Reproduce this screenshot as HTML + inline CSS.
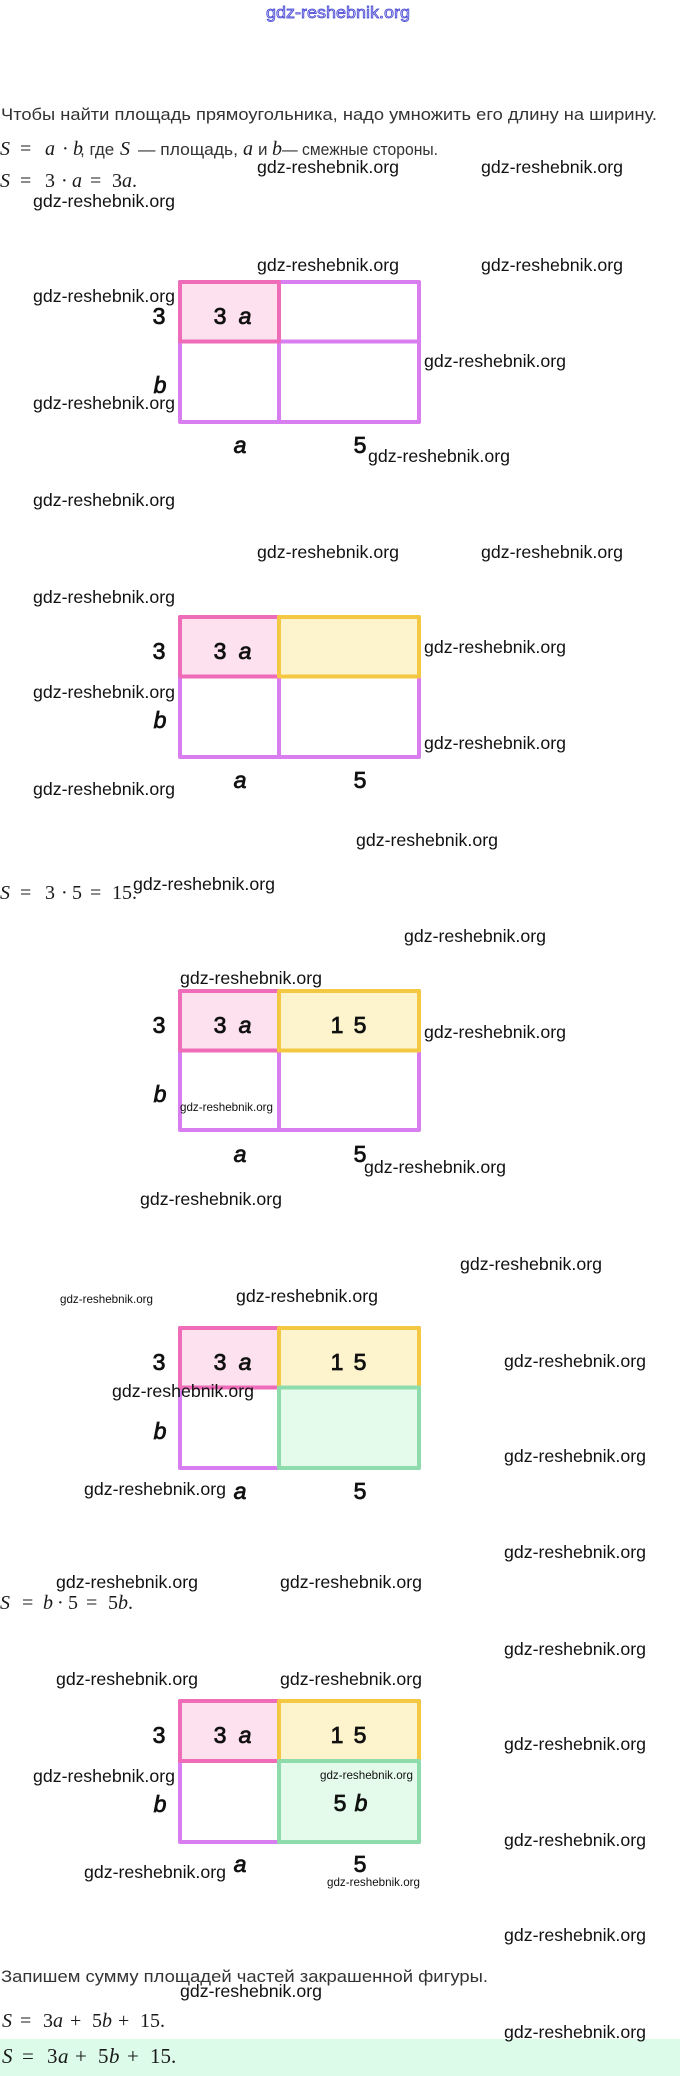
<!DOCTYPE html>
<html>
<head>
<meta charset="utf-8">
<style>
  html,body{margin:0;padding:0;background:#fff;}
  svg{display:block;}
  .t{font-family:"Liberation Sans","DejaVu Sans",sans-serif;font-size:17px;fill:#333;}
  .m{font-family:"Liberation Serif","DejaVu Serif",serif;font-size:20px;fill:#1a1a1a;}
  .m2{font-family:"Liberation Serif","DejaVu Serif",serif;font-size:21px;fill:#1a1a1a;}
  .i{font-style:italic;}
  .w{font-family:"Liberation Sans","DejaVu Sans",sans-serif;font-size:17.7px;fill:#111;}
  .ws{font-family:"Liberation Sans","DejaVu Sans",sans-serif;font-size:11.6px;fill:#111;}
  .L{font-family:"Liberation Sans","DejaVu Sans",sans-serif;font-size:23px;fill:#111;stroke:#111;stroke-width:0.8;text-anchor:middle;}
</style>
</head>
<body>
<svg width="680" height="2076" viewBox="0 0 680 2076" xmlns="http://www.w3.org/2000/svg">
  <rect x="0" y="0" width="680" height="2076" fill="#fff"/>

  <!-- top blue watermark -->
  <text x="266" y="18" font-family="Liberation Sans, DejaVu Sans, sans-serif" font-size="17" fill="#c9c9f4" stroke="#3a3ad0" stroke-width="0.7" textLength="144" lengthAdjust="spacingAndGlyphs">gdz-reshebnik.org</text>

  <!-- intro text -->
  <text class="t" x="1" y="120" textLength="656" lengthAdjust="spacingAndGlyphs">Чтобы найти площадь прямоугольника, надо умножить его длину на ширину.</text>

  <!-- line 2 -->
  <text class="m i" x="0" y="155">S</text>
  <text class="m" x="20" y="155">=</text>
  <text class="m i" x="45" y="155">a</text>
  <text class="m" x="62" y="155">·</text>
  <text class="m i" x="73" y="155">b</text>
  <text class="t" x="80" y="155">, где</text>
  <text class="m i" x="120" y="155">S</text>
  <text class="t" x="138" y="155" textLength="100" lengthAdjust="spacingAndGlyphs">— площадь,</text>
  <text class="m i" x="243" y="155">a</text>
  <text class="t" x="258" y="155">и</text>
  <text class="m i" x="272" y="155">b</text>
  <text class="t" x="282" y="155" textLength="156" lengthAdjust="spacingAndGlyphs">— смежные стороны.</text>

  <!-- line 3 -->
  <text class="m i" x="0" y="187">S</text>
  <text class="m" x="20" y="187">=</text>
  <text class="m" x="45" y="187">3</text>
  <text class="m" x="61" y="187">·</text>
  <text class="m i" x="72" y="187">a</text>
  <text class="m" x="90" y="187">=</text>
  <text class="m" x="112" y="187">3</text>
  <text class="m i" x="122" y="187">a</text>
  <text class="m" x="132" y="187">.</text>

  <!-- ========== Diagram 1 ========== -->
  <g transform="translate(0,282)">
    <rect x="180" y="0" width="239" height="140" fill="#fff" stroke="#d97ef0" stroke-width="4" stroke-linejoin="round"/>
    <line x1="279" y1="0" x2="279" y2="140" stroke="#d97ef0" stroke-width="4"/>
    <line x1="180" y1="59.5" x2="419" y2="59.5" stroke="#d97ef0" stroke-width="4"/>
    <rect x="180" y="0" width="99" height="59.5" fill="#fde1ef" stroke="#ee6cb8" stroke-width="4" stroke-linejoin="round"/>
    <text class="L" x="159" y="42">3</text>
    <text class="L i" x="160" y="111">b</text>
    <text class="L i" x="240" y="171">a</text>
    <text class="L" x="360" y="171">5</text>
    <text class="L" x="220" y="42">3</text><text class="L i" x="245" y="42">a</text>
  </g>

  <!-- ========== Diagram 2 ========== -->
  <g transform="translate(0,617)">
    <rect x="180" y="0" width="239" height="140" fill="#fff" stroke="#d97ef0" stroke-width="4" stroke-linejoin="round"/>
    <line x1="279" y1="0" x2="279" y2="140" stroke="#d97ef0" stroke-width="4"/>
    <line x1="180" y1="59.5" x2="419" y2="59.5" stroke="#d97ef0" stroke-width="4"/>
    <rect x="180" y="0" width="99" height="59.5" fill="#fde1ef" stroke="#ee6cb8" stroke-width="4" stroke-linejoin="round"/>
    <rect x="279" y="0" width="140" height="59.5" fill="#fdf3cc" stroke="#f4c842" stroke-width="4" stroke-linejoin="round"/>
    <text class="L" x="159" y="42">3</text>
    <text class="L i" x="160" y="111">b</text>
    <text class="L i" x="240" y="171">a</text>
    <text class="L" x="360" y="171">5</text>
    <text class="L" x="220" y="42">3</text><text class="L i" x="245" y="42">a</text>
  </g>

  <!-- S = 3·5 = 15 -->
  <text class="m i" x="0" y="899">S</text>
  <text class="m" x="20" y="899">=</text>
  <text class="m" x="45" y="899">3</text>
  <text class="m" x="61" y="899">·</text>
  <text class="m" x="72" y="899">5</text>
  <text class="m" x="90" y="899">=</text>
  <text class="m" x="112" y="899">15.</text>

  <!-- ========== Diagram 3 ========== -->
  <g transform="translate(0,991)">
    <rect x="180" y="0" width="239" height="139" fill="#fff" stroke="#d97ef0" stroke-width="4" stroke-linejoin="round"/>
    <line x1="279" y1="0" x2="279" y2="139" stroke="#d97ef0" stroke-width="4"/>
    <line x1="180" y1="59.5" x2="419" y2="59.5" stroke="#d97ef0" stroke-width="4"/>
    <rect x="180" y="0" width="99" height="59.5" fill="#fde1ef" stroke="#ee6cb8" stroke-width="4" stroke-linejoin="round"/>
    <rect x="279" y="0" width="140" height="59.5" fill="#fdf3cc" stroke="#f4c842" stroke-width="4" stroke-linejoin="round"/>
    <text class="L" x="159" y="42">3</text>
    <text class="L i" x="160" y="111">b</text>
    <text class="L i" x="240" y="171">a</text>
    <text class="L" x="360" y="171">5</text>
    <text class="L" x="220" y="42">3</text><text class="L i" x="245" y="42">a</text>
    <text class="L" x="337" y="42">1</text><text class="L" x="360" y="42">5</text>
  </g>

  <!-- ========== Diagram 4 ========== -->
  <g transform="translate(0,1328)">
    <rect x="180" y="0" width="239" height="140" fill="#fff" stroke="#d97ef0" stroke-width="4" stroke-linejoin="round"/>
    <line x1="279" y1="0" x2="279" y2="140" stroke="#d97ef0" stroke-width="4"/>
    <line x1="180" y1="59.5" x2="419" y2="59.5" stroke="#d97ef0" stroke-width="4"/>
    <rect x="180" y="0" width="99" height="59.5" fill="#fde1ef" stroke="#ee6cb8" stroke-width="4" stroke-linejoin="round"/>
    <rect x="279" y="0" width="140" height="59.5" fill="#fdf3cc" stroke="#f4c842" stroke-width="4" stroke-linejoin="round"/>
    <rect x="279" y="59.5" width="140" height="80.5" fill="#e4fbeb" stroke="#8edcab" stroke-width="4" stroke-linejoin="round"/>
    <text class="L" x="159" y="42">3</text>
    <text class="L i" x="160" y="111">b</text>
    <text class="L i" x="240" y="171">a</text>
    <text class="L" x="360" y="171">5</text>
    <text class="L" x="220" y="42">3</text><text class="L i" x="245" y="42">a</text>
    <text class="L" x="337" y="42">1</text><text class="L" x="360" y="42">5</text>
  </g>

  <!-- S = b·5 = 5b -->
  <text class="m i" x="0" y="1609">S</text>
  <text class="m" x="22" y="1609">=</text>
  <text class="m i" x="43" y="1609">b</text>
  <text class="m" x="57" y="1609">·</text>
  <text class="m" x="68" y="1609">5</text>
  <text class="m" x="86" y="1609">=</text>
  <text class="m" x="108" y="1609">5</text>
  <text class="m i" x="118" y="1609">b</text>
  <text class="m" x="128" y="1609">.</text>

  <!-- ========== Diagram 5 ========== -->
  <g transform="translate(0,1701)">
    <rect x="180" y="0" width="239" height="141" fill="#fff" stroke="#d97ef0" stroke-width="4" stroke-linejoin="round"/>
    <line x1="279" y1="0" x2="279" y2="141" stroke="#d97ef0" stroke-width="4"/>
    <line x1="180" y1="60" x2="419" y2="60" stroke="#d97ef0" stroke-width="4"/>
    <rect x="180" y="0" width="99" height="60" fill="#fde1ef" stroke="#ee6cb8" stroke-width="4" stroke-linejoin="round"/>
    <rect x="279" y="0" width="140" height="60" fill="#fdf3cc" stroke="#f4c842" stroke-width="4" stroke-linejoin="round"/>
    <rect x="279" y="60" width="140" height="81" fill="#e4fbeb" stroke="#8edcab" stroke-width="4" stroke-linejoin="round"/>
    <text class="L" x="159" y="42">3</text>
    <text class="L i" x="160" y="111">b</text>
    <text class="L i" x="240" y="171">a</text>
    <text class="L" x="360" y="171">5</text>
    <text class="L" x="220" y="42">3</text><text class="L i" x="245" y="42">a</text>
    <text class="L" x="337" y="42">1</text><text class="L" x="360" y="42">5</text>
    <text class="L" x="340" y="110">5</text><text class="L i" x="361" y="110">b</text>
  </g>

  <!-- final text -->
  <text class="t" x="1" y="1982" textLength="487" lengthAdjust="spacingAndGlyphs">Запишем сумму площадей частей закрашенной фигуры.</text>

  <text class="m i" x="2" y="2027">S</text>
  <text class="m" x="20" y="2027">=</text>
  <text class="m" x="43" y="2027">3</text>
  <text class="m i" x="53" y="2027">a</text>
  <text class="m" x="70" y="2027">+</text>
  <text class="m" x="92" y="2027">5</text>
  <text class="m i" x="102" y="2027">b</text>
  <text class="m" x="118" y="2027">+</text>
  <text class="m" x="140" y="2027">15.</text>

  <rect x="0" y="2039" width="680" height="37" fill="#dcfbe9"/>
  <text class="m2 i" x="2" y="2063">S</text>
  <text class="m2" x="22" y="2063">=</text>
  <text class="m2" x="47" y="2063">3</text>
  <text class="m2 i" x="58" y="2063">a</text>
  <text class="m2" x="75" y="2063">+</text>
  <text class="m2" x="98" y="2063">5</text>
  <text class="m2 i" x="109" y="2063">b</text>
  <text class="m2" x="127" y="2063">+</text>
  <text class="m2" x="150" y="2063">15.</text>

  <!-- watermarks -->
  <g>
    <text class="w" x="257" y="173" textLength="142" lengthAdjust="spacingAndGlyphs">gdz-reshebnik.org</text>
    <text class="w" x="481" y="173" textLength="142" lengthAdjust="spacingAndGlyphs">gdz-reshebnik.org</text>
    <text class="w" x="33" y="207" textLength="142" lengthAdjust="spacingAndGlyphs">gdz-reshebnik.org</text>
    <text class="w" x="257" y="271" textLength="142" lengthAdjust="spacingAndGlyphs">gdz-reshebnik.org</text>
    <text class="w" x="481" y="271" textLength="142" lengthAdjust="spacingAndGlyphs">gdz-reshebnik.org</text>
    <text class="w" x="33" y="302" textLength="142" lengthAdjust="spacingAndGlyphs">gdz-reshebnik.org</text>
    <text class="w" x="424" y="367" textLength="142" lengthAdjust="spacingAndGlyphs">gdz-reshebnik.org</text>
    <text class="w" x="33" y="409" textLength="142" lengthAdjust="spacingAndGlyphs">gdz-reshebnik.org</text>
    <text class="w" x="368" y="462" textLength="142" lengthAdjust="spacingAndGlyphs">gdz-reshebnik.org</text>
    <text class="w" x="33" y="506" textLength="142" lengthAdjust="spacingAndGlyphs">gdz-reshebnik.org</text>

    <text class="w" x="257" y="558" textLength="142" lengthAdjust="spacingAndGlyphs">gdz-reshebnik.org</text>
    <text class="w" x="481" y="558" textLength="142" lengthAdjust="spacingAndGlyphs">gdz-reshebnik.org</text>
    <text class="w" x="33" y="603" textLength="142" lengthAdjust="spacingAndGlyphs">gdz-reshebnik.org</text>
    <text class="w" x="424" y="653" textLength="142" lengthAdjust="spacingAndGlyphs">gdz-reshebnik.org</text>
    <text class="w" x="33" y="698" textLength="142" lengthAdjust="spacingAndGlyphs">gdz-reshebnik.org</text>
    <text class="w" x="424" y="749" textLength="142" lengthAdjust="spacingAndGlyphs">gdz-reshebnik.org</text>
    <text class="w" x="33" y="795" textLength="142" lengthAdjust="spacingAndGlyphs">gdz-reshebnik.org</text>
    <text class="w" x="356" y="846" textLength="142" lengthAdjust="spacingAndGlyphs">gdz-reshebnik.org</text>
    <text class="w" x="133" y="890" textLength="142" lengthAdjust="spacingAndGlyphs">gdz-reshebnik.org</text>
    <text class="w" x="404" y="942" textLength="142" lengthAdjust="spacingAndGlyphs">gdz-reshebnik.org</text>

    <text class="w" x="180" y="984" textLength="142" lengthAdjust="spacingAndGlyphs">gdz-reshebnik.org</text>
    <text class="w" x="424" y="1038" textLength="142" lengthAdjust="spacingAndGlyphs">gdz-reshebnik.org</text>
    <text class="ws" x="180" y="1111" textLength="93" lengthAdjust="spacingAndGlyphs">gdz-reshebnik.org</text>
    <text class="w" x="364" y="1173" textLength="142" lengthAdjust="spacingAndGlyphs">gdz-reshebnik.org</text>
    <text class="w" x="140" y="1205" textLength="142" lengthAdjust="spacingAndGlyphs">gdz-reshebnik.org</text>
    <text class="w" x="460" y="1270" textLength="142" lengthAdjust="spacingAndGlyphs">gdz-reshebnik.org</text>

    <text class="ws" x="60" y="1303" textLength="93" lengthAdjust="spacingAndGlyphs">gdz-reshebnik.org</text>
    <text class="w" x="236" y="1302" textLength="142" lengthAdjust="spacingAndGlyphs">gdz-reshebnik.org</text>
    <text class="w" x="504" y="1367" textLength="142" lengthAdjust="spacingAndGlyphs">gdz-reshebnik.org</text>
    <text class="w" x="112" y="1397" textLength="142" lengthAdjust="spacingAndGlyphs">gdz-reshebnik.org</text>
    <text class="w" x="504" y="1462" textLength="142" lengthAdjust="spacingAndGlyphs">gdz-reshebnik.org</text>
    <text class="w" x="84" y="1495" textLength="142" lengthAdjust="spacingAndGlyphs">gdz-reshebnik.org</text>
    <text class="w" x="504" y="1558" textLength="142" lengthAdjust="spacingAndGlyphs">gdz-reshebnik.org</text>
    <text class="w" x="56" y="1588" textLength="142" lengthAdjust="spacingAndGlyphs">gdz-reshebnik.org</text>
    <text class="w" x="280" y="1588" textLength="142" lengthAdjust="spacingAndGlyphs">gdz-reshebnik.org</text>
    <text class="w" x="504" y="1655" textLength="142" lengthAdjust="spacingAndGlyphs">gdz-reshebnik.org</text>
    <text class="w" x="56" y="1685" textLength="142" lengthAdjust="spacingAndGlyphs">gdz-reshebnik.org</text>
    <text class="w" x="280" y="1685" textLength="142" lengthAdjust="spacingAndGlyphs">gdz-reshebnik.org</text>

    <text class="w" x="504" y="1750" textLength="142" lengthAdjust="spacingAndGlyphs">gdz-reshebnik.org</text>
    <text class="ws" x="320" y="1779" textLength="93" lengthAdjust="spacingAndGlyphs">gdz-reshebnik.org</text>
    <text class="w" x="33" y="1782" textLength="142" lengthAdjust="spacingAndGlyphs">gdz-reshebnik.org</text>
    <text class="w" x="504" y="1846" textLength="142" lengthAdjust="spacingAndGlyphs">gdz-reshebnik.org</text>
    <text class="w" x="84" y="1878" textLength="142" lengthAdjust="spacingAndGlyphs">gdz-reshebnik.org</text>
    <text class="ws" x="327" y="1886" textLength="93" lengthAdjust="spacingAndGlyphs">gdz-reshebnik.org</text>
    <text class="w" x="504" y="1941" textLength="142" lengthAdjust="spacingAndGlyphs">gdz-reshebnik.org</text>
    <text class="w" x="180" y="1997" textLength="142" lengthAdjust="spacingAndGlyphs">gdz-reshebnik.org</text>
    <text class="w" x="504" y="2038" textLength="142" lengthAdjust="spacingAndGlyphs">gdz-reshebnik.org</text>
  </g>
</svg>
</body>
</html>
